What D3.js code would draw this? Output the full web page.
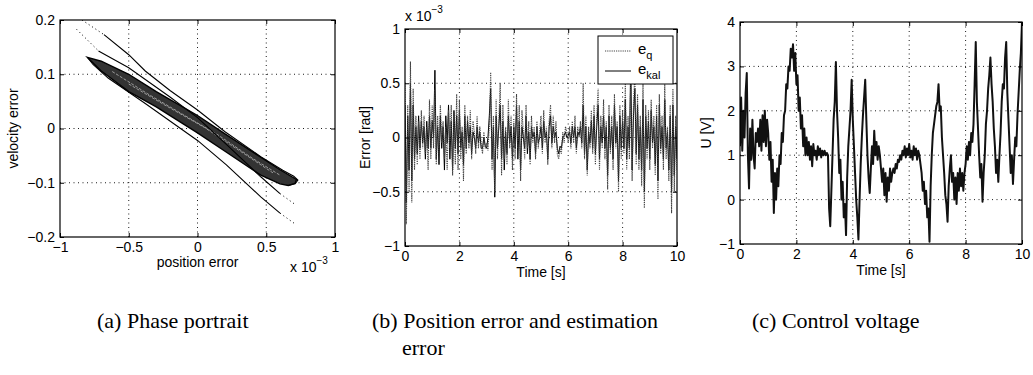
<!DOCTYPE html>
<html>
<head>
<meta charset="utf-8">
<script src="https://cdn.jsdelivr.net/npm/d3@7"></script>
<style>
  body { margin: 0; background: #fff; }
</style>
</head>
<body>
<svg id="fig" width="1033" height="375" font-family='"Liberation Sans", Arial, sans-serif'></svg>
<script>
// ---- panel (a): phase portrait, position error in 1e-3 rad ----
const phaseTicksX = [-1, -0.5, 0, 0.5, 1];
const phaseTicksY = [-0.2, -0.1, 0, 0.1, 0.2];
const phaseBand = [[-0.8, 0.131], [-0.7, 0.124], [-0.5, 0.1], [-0.3, 0.068], [0, 0.024], [0.2, -0.01], [0.46, -0.053], [0.6, -0.076], [0.68, -0.088], [0.72, -0.094],
  [0.71, -0.101], [0.66, -0.105], [0.6, -0.102], [0.46, -0.086], [0.2, -0.042], [0, -0.008], [-0.3, 0.04], [-0.5, 0.068], [-0.7, 0.106], [-0.78, 0.126], [-0.8, 0.131]];
const phaseUpper = [[-0.68, 0.173], [-0.5, 0.136], [-0.38, 0.106], [-0.2, 0.07], [0, 0.034], [0.2, -0.006], [0.46, -0.052], [0.62, -0.077], [0.7, -0.088], [0.73, -0.095], [0.71, -0.102], [0.66, -0.105]];
const phaseUpperLead = [[-0.84, 0.2], [-0.68, 0.173]];
const phaseLower = [[-0.8, 0.131], [-0.76, 0.118], [-0.65, 0.093], [-0.38, 0.046], [0, -0.022], [0.21, -0.067], [0.46, -0.126], [0.6, -0.156]];
const phaseLowerTail = [[0.6, -0.156], [0.71, -0.176]];
const phaseMid = [[-0.72, 0.143], [-0.5, 0.112], [-0.2, 0.058], [0, 0.02], [0.2, -0.027], [0.46, -0.089], [0.6, -0.12]];
const phaseMidLead = [[-0.88, 0.183], [-0.72, 0.143]];
const phaseMidTail = [[0.6, -0.12], [0.71, -0.14]];
const phaseStreakA = [[-0.62, 0.105], [-0.35, 0.062], [-0.1, 0.025], [0.15, -0.012], [0.4, -0.055], [0.6, -0.086]];
const phaseStreakB = [[-0.5, 0.082], [-0.25, 0.045], [0.05, 0.002], [0.3, -0.04], [0.55, -0.082]];

// ---- panel (b): position error and estimation error, 1e-3 rad, 0..10 s ----
const errTicksX = [0, 2, 4, 6, 8, 10];
const errTicksY = [-1, -0.5, 0, 0.5, 1];
const eQ = [
  0.5, -0.8, 0.3, -0.5, 0.7, -0.6, 0.45, -0.3, 0.2, -0.25, 0.15, -0.2, 0.25, -0.1, 0.2, -0.15, 0.1, -0.3, 0.35, -0.2,
  0.3, -0.1, 0.45, -0.25, 0.2, -0.15, 0.3, -0.05, 0.15, -0.2, 0.1, -0.3, 0.25, -0.1, 0.3, -0.35, 0.2, -0.25, 0.4, -0.3,
  0.35, -0.2, 0.1, -0.4, 0.3, -0.15, 0.2, -0.1, 0.25, -0.2, 0.15, 0.05, -0.15, 0.2, -0.1, 0.1, -0.05, -0.15, 0.05, -0.1,
  -0.05, -0.12, 0.1, 0.6, -0.3, 0.2, -0.5, 0.35, -0.2, 0.15, 0.5, -0.35, 0.3, -0.2, 0.1, -0.25, 0.35, -0.1, 0.2, -0.3,
  0.15, -0.2, 0.4, -0.1, 0.3, -0.4, 0.25, 0.05, -0.2, 0.3, -0.1, 0.15, -0.25, 0.2, -0.05, 0.1, -0.2, 0.15, -0.1, 0.05,
  0.2, -0.15, 0.25, -0.05, 0.1, -0.25, 0.15, 0.3, -0.1, 0.2, -0.05, 0.15, -0.15, -0.2, -0.1, -0.15, 0.05, -0.05, 0.1, 0.05,
  -0.05, 0.1, -0.1, 0.15, -0.05, 0.2, -0.15, 0.1, 0.0, 0.15, -0.1, 0.5, -0.2, 0.2, -0.35, 0.1, -0.1, 0.25, -0.15, 0.3,
  -0.25, 0.2, 0.45, -0.3, 0.2, -0.1, 0.35, -0.2, 0.15, -0.48, 0.3, -0.15, 0.2, -0.3, 0.4, -0.1, 0.15, -0.5, 0.3, -0.2,
  0.25, -0.15, 0.5, -0.3, 0.2, -0.2, 0.55, -0.4, 0.3, 0.6, -0.25, 0.4, -0.3, 0.2, -0.45, 0.5, -0.65, 0.3, -0.2, 0.25,
  -0.3, 0.35, -0.1, 0.2, -0.35, 0.3, -0.57, 0.4, -0.15, 0.2, -0.3, 0.5, -0.2, 0.1, -0.4, 0.3, -0.7, 0.45, -0.5, 0.2, -0.3
];
const eKal = [
  0.3, -0.6, 0.2, -0.3, 0.5, -0.4, 0.3, -0.2, 0.1, -0.15, 0.2, -0.1, 0.15, -0.05, 0.1, -0.2, 0.15, -0.1, 0.2, -0.1,
  0.15, 0.0, 0.62, -0.2, 0.1, -0.25, 0.2, -0.1, 0.1, -0.3, 0.2, -0.05, 0.3, -0.2, 0.15, -0.3, 0.25, -0.1, 0.2, -0.15,
  0.25, -0.1, 0.05, -0.25, 0.2, -0.1, 0.15, -0.05, 0.1, -0.15, 0.05, 0.0, -0.1, 0.1, -0.05, 0.05, -0.1, -0.1, 0.0, -0.08,
  -0.1, 0.0, 0.2, 0.45, -0.2, 0.1, -0.55, 0.2, -0.1, 0.1, 0.3, -0.2, 0.15, -0.3, 0.05, -0.15, 0.2, -0.05, 0.1, -0.2,
  0.1, -0.1, 0.3, -0.2, 0.15, -0.3, 0.1, 0.0, -0.1, 0.2, -0.15, 0.05, -0.2, 0.1, 0.0, 0.05, -0.15, 0.1, -0.05, 0.0,
  0.1, -0.1, 0.15, 0.0, 0.05, -0.2, 0.1, 0.2, -0.05, 0.1, 0.0, 0.05, -0.1, -0.15, -0.08, -0.1, 0.0, 0.02, 0.05, 0.0,
  0.02, 0.05, -0.05, 0.1, 0.0, 0.1, -0.1, 0.05, 0.02, 0.1, -0.05, 0.3, -0.15, 0.1, -0.3, 0.05, -0.05, 0.15, -0.1, 0.2,
  -0.15, 0.1, 0.3, -0.2, 0.1, -0.05, 0.2, -0.1, 0.1, -0.35, 0.2, -0.1, 0.1, -0.2, 0.3, -0.05, 0.1, -0.4, 0.2, -0.1,
  0.15, -0.1, 0.35, -0.2, 0.1, -0.1, 0.7, -0.3, 0.2, 0.45, -0.15, 0.3, -0.2, 0.1, -0.3, 0.35, -0.5, 0.2, -0.1, 0.15,
  -0.2, 0.25, -0.05, 0.1, -0.25, 0.2, -0.4, 0.3, -0.1, 0.1, -0.2, 0.35, -0.1, 0.05, -0.3, 0.2, -0.5, 0.3, -0.35, 0.1, -0.2
];

// ---- panel (c): control voltage, V, 0..10 s ----
const voltTicksX = [0, 2, 4, 6, 8, 10];
const voltTicksY = [-1, 0, 1, 2, 3, 4];
const uVolt = [
  1.2, 2.3, 1.1, 2.0, 1.4, 2.4, 2.85, 1.0, 0.25, 1.6, 0.9, 1.8, 1.0, 0.7, 1.5, 1.3, 1.6, 1.2, 1.8, 1.1, 1.9, 1.3, 2.0, 1.2, 1.8,
  1.5, 0.9, 1.3, 0.4, 0.9, -0.3, 0.6, 0.0, 0.7, 0.3, 1.0, 0.8, 1.5, 1.3, 1.9, 2.0, 2.6, 2.5, 3.0, 2.9, 3.4, 3.2, 3.5, 2.9, 3.3,
  2.6, 2.8, 2.0, 2.3, 1.6, 1.9, 1.2, 1.6, 1.0, 1.4, 1.0, 1.3, 0.9, 1.2, 0.75, 1.25, 1.0, 1.1, 0.9, 1.2, 1.0, 1.15, 0.95, 1.1, 1.0,
  1.1, 1.0, 1.05, 1.0, -0.2, -0.6, 0.2, 1.0, 1.8, 2.2, 3.1, 2.0, 1.4, 0.6, 0.9, 0.0, 0.4, -0.4, -0.1, -0.8, 0.5, 1.2, 1.6, 2.0, 2.7,
  1.8, 1.2, 0.6, 0.0, -0.4, -0.9, 0.0, 0.8, 1.4, 1.9, 2.3, 2.7, 1.8, 1.0, 0.5, 0.15, 0.7, 1.2, 0.8, 1.55, 1.0, 1.3, 0.9, 1.2, 1.0,
  0.7, 0.4, 0.7, 0.1, 0.6, -0.05, 0.5, 0.2, 0.7, 0.4, 0.6, 0.7, 0.6, 0.8, 0.7, 0.9, 0.85, 1.0, 0.9, 1.1, 1.0, 1.2, 0.95, 1.15, 1.0,
  1.25, 0.95, 1.1, 0.9, 1.2, 1.0, 1.15, 0.9, 1.1, 1.0, 0.8, 0.6, 0.2, 0.4, -0.1, 0.2, -0.4, -0.2, -0.95, 0.3, 1.0, 1.5, 1.7, 1.9, 2.1,
  2.2, 2.6, 2.0, 2.1, 1.4, 1.0, 0.6, 0.1, -0.1, -0.5, 0.3, 0.7, 1.0, 0.4, 0.6, 0.0, 0.5, -0.1, 0.6, 0.2, 0.7, 0.3, 0.6, 0.2, 0.6,
  0.8, 1.2, 0.9, 1.3, 1.0, 1.5, 1.3, 1.7, 2.6, 3.55, 2.2, 1.6, 1.0, 0.5, 0.8, -0.05, 0.6, 1.0, 1.7, 2.0, 2.5, 2.8, 3.2, 2.6, 2.2,
  1.6, 1.2, 0.6, 0.9, 0.4, 1.0, 1.5, 2.2, 2.6, 2.5, 3.2, 3.55, 2.4, 1.8, 1.2, 0.6, 1.0, 0.35, 0.9, 1.4, 1.2, 1.9, 2.4, 2.9, 3.3,
  4.0
];

const captions = [
  { x: 97, lines: ["(a) Phase portrait"] },
  { x: 372, lines: ["(b) Position error and estimation", "error"] },
  { x: 752, lines: ["(c) Control voltage"] }
];

const svg = d3.select('#fig');
const fmt = d => String(d).replace('-', '\u2212');

function panel(cfg) {
  const g = svg.append('g');
  const x = d3.scaleLinear().domain(cfg.xd).range([cfg.l, cfg.r]);
  const y = d3.scaleLinear().domain(cfg.yd).range([cfg.b, cfg.t]);

  // dotted grid
  g.selectAll('.gx').data(cfg.xt.slice(1, -1)).join('line')
    .attr('x1', d => x(d)).attr('x2', d => x(d)).attr('y1', cfg.t).attr('y2', cfg.b)
    .attr('stroke', '#000').attr('stroke-width', 0.9).attr('stroke-dasharray', '1,3.5');
  g.selectAll('.gy').data(cfg.yt.slice(1, -1)).join('line')
    .attr('y1', d => y(d)).attr('y2', d => y(d)).attr('x1', cfg.l).attr('x2', cfg.r)
    .attr('stroke', '#000').attr('stroke-width', 0.9).attr('stroke-dasharray', '1,3.5');

  const clipId = 'clip' + cfg.id;
  svg.append('clipPath').attr('id', clipId).append('rect')
    .attr('x', cfg.l).attr('y', cfg.t).attr('width', cfg.r - cfg.l).attr('height', cfg.b - cfg.t);
  const plot = g.append('g').attr('clip-path', `url(#${clipId})`);

  const axes = [
    [d3.axisBottom(x).tickValues(cfg.xt).tickFormat(fmt), `translate(0,${cfg.b})`],
    [d3.axisTop(x).tickValues(cfg.xt).tickFormat(''), `translate(0,${cfg.t})`],
    [d3.axisLeft(y).tickValues(cfg.yt).tickFormat(fmt), `translate(${cfg.l},0)`],
    [d3.axisRight(y).tickValues(cfg.yt).tickFormat(''), `translate(${cfg.r},0)`]
  ];
  axes.forEach(([ax, tr]) => {
    const a = g.append('g').attr('transform', tr).call(ax.tickSize(-4).tickPadding(5));
    a.select('.domain').remove();
    a.selectAll('line').attr('stroke', '#000');
    a.selectAll('text').attr('font-size', 14).attr('fill', '#000')
      .attr('font-family', '"Liberation Sans", Arial, sans-serif');
  });
  g.append('rect').attr('x', cfg.l).attr('y', cfg.t).attr('width', cfg.r - cfg.l).attr('height', cfg.b - cfg.t)
    .attr('fill', 'none').attr('stroke', '#000').attr('stroke-width', 1.2);

  g.append('text').attr('x', (cfg.l + cfg.r) / 2).attr('y', cfg.b + cfg.xly)
    .attr('text-anchor', 'middle').attr('font-size', 14).text(cfg.xlabel);
  g.append('text').attr('transform', `translate(${cfg.ylx},${(cfg.t + cfg.b) / 2}) rotate(-90)`)
    .attr('text-anchor', 'middle').attr('font-size', 14).text(cfg.ylabel);
  return { x, y, plot, g };
}

function expLabel(gx, gy) {
  const t = svg.append('text').attr('x', gx).attr('y', gy).attr('font-size', 14);
  t.append('tspan').text('x 10');
  t.append('tspan').attr('dy', -8).attr('font-size', 10).text('\u22123');
}

// ---- (a) ----
const A = panel({ id: 'a', l: 60, r: 335, t: 20, b: 237, xd: [-1, 1], yd: [-0.2, 0.2],
  xt: phaseTicksX, yt: phaseTicksY, xlabel: 'position error', ylabel: 'velocity error', ylx: 18, xly: 30 });
const pLine = d3.line().x(d => A.x(d[0])).y(d => A.y(d[1]));
A.plot.append('path').attr('d', pLine(phaseBand) + 'Z')
  .attr('fill', '#333').attr('stroke', '#000').attr('stroke-width', 1.4);
[phaseStreakA, phaseStreakB].forEach(s => A.plot.append('path').attr('d', pLine(s))
  .attr('fill', 'none').attr('stroke', '#b5b5b5').attr('stroke-width', 0.8).attr('stroke-dasharray', '3,1.5'));
[phaseUpper, phaseLower, phaseMid].forEach(s => A.plot.append('path').attr('d', pLine(s))
  .attr('fill', 'none').attr('stroke', '#000').attr('stroke-width', 1.1));
[phaseUpperLead, phaseLowerTail, phaseMidLead, phaseMidTail].forEach(s => A.plot.append('path').attr('d', pLine(s))
  .attr('fill', 'none').attr('stroke', '#222').attr('stroke-width', 1).attr('stroke-dasharray', '1.2,2.8'));
expLabel(290, 272);

// ---- (b) ----
const B = panel({ id: 'b', l: 405, r: 677, t: 29, b: 246, xd: [0, 10], yd: [-1, 1],
  xt: errTicksX, yt: errTicksY, xlabel: 'Time [s]', ylabel: 'Error [rad]', ylx: 370, xly: 31 });
const bLine = arr => d3.line().x((d, i) => B.x(i * 10 / (arr.length - 1))).y(d => B.y(d))(arr);
B.plot.append('path').attr('d', bLine(eKal)).attr('fill', 'none').attr('stroke', '#000').attr('stroke-width', 1);
B.plot.append('path').attr('d', bLine(eQ)).attr('fill', 'none').attr('stroke', '#444')
  .attr('stroke-width', 1.1).attr('stroke-dasharray', '1.2,1');
expLabel(405, 21);

// legend
const lg = svg.append('g');
lg.append('rect').attr('x', 598).attr('y', 36).attr('width', 75).attr('height', 48)
  .attr('fill', '#fff').attr('stroke', '#000').attr('stroke-width', 1);
lg.append('line').attr('x1', 605).attr('x2', 631).attr('y1', 51).attr('y2', 51)
  .attr('stroke', '#444').attr('stroke-dasharray', '1.2,1');
lg.append('line').attr('x1', 605).attr('x2', 631).attr('y1', 71).attr('y2', 71).attr('stroke', '#000');
const l1 = lg.append('text').attr('x', 638).attr('y', 54).attr('font-size', 15);
l1.append('tspan').text('e');
l1.append('tspan').attr('dy', 5).attr('font-size', 11).text('q');
const l2 = lg.append('text').attr('x', 638).attr('y', 74).attr('font-size', 15);
l2.append('tspan').text('e');
l2.append('tspan').attr('dy', 5).attr('font-size', 11).text('kal');

// ---- (c) ----
const C = panel({ id: 'c', l: 740, r: 1022, t: 22, b: 244, xd: [0, 10], yd: [-1, 4],
  xt: voltTicksX, yt: voltTicksY, xlabel: 'Time [s]', ylabel: 'U [V]', ylx: 711, xly: 31 });
const cLine = d3.line().x((d, i) => C.x(i * 10 / (uVolt.length - 1))).y(d => C.y(d));
C.plot.append('path').attr('d', cLine(uVolt)).attr('fill', 'none').attr('stroke', '#111')
  .attr('stroke-width', 2).attr('stroke-linejoin', 'round');

// captions
captions.forEach(c => {
  c.lines.forEach((s, i) => {
    svg.append('text').attr('x', c.x + (i ? 30 : 0)).attr('y', 328 + i * 27)
      .attr('font-family', '"Liberation Serif", "Times New Roman", serif')
      .attr('font-size', 22).attr('fill', '#000').text(s);
  });
});
</script>
</body>
</html>
